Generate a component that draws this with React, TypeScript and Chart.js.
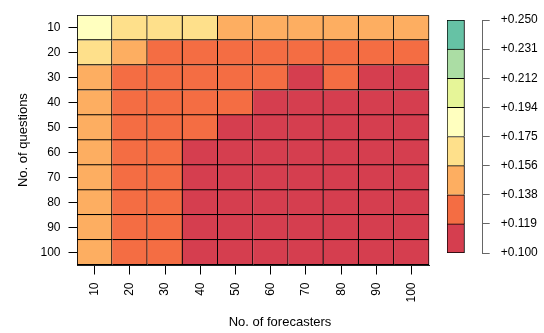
import React, { useEffect, useRef } from "react";
import { Chart, registerables } from "chart.js";

Chart.register(...registerables);

const FONT = "'Liberation Sans', Arial, Helvetica, sans-serif";

// categories
const forecasters = ["10", "20", "30", "40", "50", "60", "70", "80", "90", "100"];
const questions = ["10", "20", "30", "40", "50", "60", "70", "80", "90", "100"];

// values per question row (columns = forecasters 10..100)
const q10 = [0.178, 0.166, 0.161, 0.158, 0.150, 0.148, 0.146, 0.145, 0.144, 0.143];
const q20 = [0.160, 0.142, 0.135, 0.131, 0.129, 0.127, 0.125, 0.124, 0.123, 0.122];
const q30 = [0.150, 0.133, 0.127, 0.124, 0.122, 0.120, 0.118, 0.1192, 0.117, 0.116];
const q40 = [0.146, 0.131, 0.125, 0.122, 0.1195, 0.117, 0.116, 0.115, 0.114, 0.113];
const q50 = [0.144, 0.130, 0.124, 0.120, 0.117, 0.115, 0.114, 0.113, 0.112, 0.111];
const q60 = [0.143, 0.128, 0.122, 0.118, 0.115, 0.113, 0.112, 0.111, 0.110, 0.109];
const q70 = [0.142, 0.127, 0.121, 0.117, 0.114, 0.112, 0.111, 0.110, 0.109, 0.108];
const q80 = [0.141, 0.127, 0.121, 0.116, 0.113, 0.111, 0.110, 0.109, 0.108, 0.107];
const q90 = [0.141, 0.126, 0.120, 0.116, 0.113, 0.111, 0.109, 0.108, 0.107, 0.106];
const q100 = [0.140, 0.126, 0.120, 0.115, 0.112, 0.110, 0.109, 0.108, 0.107, 0.106];
const valueRows = [q10, q20, q30, q40, q50, q60, q70, q80, q90, q100];

// colour scale
const binEdges = [0.1, 0.11875, 0.1375, 0.15625, 0.175, 0.19375, 0.2125, 0.23125, 0.25];
const binLabels = ["+0.100", "+0.119", "+0.138", "+0.156", "+0.175", "+0.194", "+0.212", "+0.231", "+0.250"];
const binColors = ["#D53E4F", "#F46D43", "#FDAE61", "#FEE08B", "#FFFFBF", "#E6F598", "#ABDDA4", "#66C2A5"];

function colorFor(v: number): string {
  let k = 0;
  while (k < binColors.length - 1 && v >= binEdges[k + 1]) k++;
  return binColors[k];
}

export default function App() {
  const mainRef = useRef<HTMLCanvasElement | null>(null);
  const barRef = useRef<HTMLCanvasElement | null>(null);

  useEffect(() => {
    const tickFont = { family: FONT, size: 12 };
    const titleFont = { family: FONT, size: 13, weight: "normal" as const };

    const main = new Chart(mainRef.current!, {
      type: "bar",
      data: {
        labels: forecasters,
        datasets: valueRows.map((row, i) => ({
          label: questions[i],
          data: row.map(() => [i, i + 1]) as any,
          backgroundColor: row.map(colorFor),
          borderColor: "#000",
          borderWidth: (ctx: any) => ({
            top: i === 0 ? 1.2 : 0,
            left: ctx.dataIndex === 0 ? 1.2 : 0,
            right: 1.25,
            bottom: 1.25,
          }),
          borderSkipped: false,
          grouped: false,
          barPercentage: 1,
          categoryPercentage: 1,
          yAxisID: "y",
        })) as any,
      },
      options: {
        animation: false,
        responsive: false,
        devicePixelRatio: 1,
        layout: { padding: { left: 16, top: 7.3, right: 0, bottom: 0 } },
        plugins: {
          legend: { display: false },
          tooltip: { enabled: false },
          title: {
            display: true,
            position: "bottom",
            text: "No. of forecasters",
            color: "#000",
            font: titleFont,
            padding: { top: 0, bottom: 3 },
          },
        },
        scales: {
          x: {
            type: "category",
            offset: true,
            grid: {
              display: true,
              drawOnChartArea: false,
              drawTicks: true,
              tickLength: 9.5,
              color: "#000",
              offset: false,
            },
            border: { display: true, color: "#222" },
            ticks: {
              color: "#000",
              font: tickFont,
              minRotation: 90,
              maxRotation: 90,
              autoSkip: false,
              padding: 8,
            },
            afterFit: (s: any) => {
              s.height = 49.4;
            },
          },
          y: {
            type: "linear",
            min: 0,
            max: 10,
            reverse: true,
            grid: {
              display: true,
              drawOnChartArea: false,
              drawTicks: true,
              tickLength: 8.5,
              color: "#000",
            },
            border: { display: true, color: "#222" },
            ticks: {
              color: "#000",
              font: tickFont,
              padding: 8,
              callback: (_v: any, idx: number) => questions[idx],
            },
            afterBuildTicks: (s: any) => {
              s.ticks = questions.map((_, i) => ({ value: i + 0.5 }));
            },
            title: {
              display: true,
              text: "No. of questions",
              color: "#000",
              font: titleFont,
              padding: { top: 0, bottom: 0 },
            },
            afterFit: (s: any) => {
              s.width = 61;
            },
          },
          yr: {
            type: "linear",
            position: "right",
            display: true,
            ticks: { display: false },
            grid: { display: false },
            border: { display: false },
            afterFit: (s: any) => {
              s.width = 114.7;
            },
          },
        },
      } as any,
    });

    const bar = new Chart(barRef.current!, {
      type: "bar",
      data: {
        labels: ["a", "b"],
        datasets: binColors.map((c, k) => ({
          data: [[binEdges[k], binEdges[k + 1]]] as any,
          backgroundColor: c,
          borderColor: "#000",
          borderWidth: { top: 1, bottom: k === 0 ? 1 : 0, left: 1, right: 1 },
          borderSkipped: false,
          grouped: false,
          barPercentage: 1,
          categoryPercentage: 1,
        })) as any,
      },
      options: {
        animation: false,
        responsive: false,
        devicePixelRatio: 1,
        layout: { padding: { left: 7, top: 20, right: 0, bottom: 80 } },
        plugins: { legend: { display: false }, tooltip: { enabled: false } },
        scales: {
          x: { display: false, offset: true },
          y: {
            type: "linear",
            position: "right",
            min: 0.1,
            max: 0.25,
            afterBuildTicks: (s: any) => {
              s.ticks = binEdges.map((v) => ({ value: v }));
            },
            ticks: {
              color: "#000",
              font: tickFont,
              padding: 11,
              callback: (_v: any, idx: number) => binLabels[idx],
            },
            grid: {
              display: true,
              drawOnChartArea: false,
              drawTicks: true,
              tickLength: 7.7,
              color: "#666",
            },
            border: { display: true, color: "#666" },
            afterFit: (s: any) => {
              s.width = 62;
            },
          },
        },
      } as any,
    });

    return () => {
      main.destroy();
      bar.destroy();
    };
  }, []);

  return (
    <div style={{ position: "absolute", left: 0, top: 0, width: 544, height: 333, background: "#fff" }}>
      <canvas
        ref={mainRef}
        width={544}
        height={333}
        style={{ position: "absolute", left: 0, top: 0, width: 544, height: 333 }}
      />
      <canvas
        ref={barRef}
        width={104}
        height={333}
        style={{ position: "absolute", left: 440, top: 0, width: 104, height: 333 }}
      />
    </div>
  );
}
